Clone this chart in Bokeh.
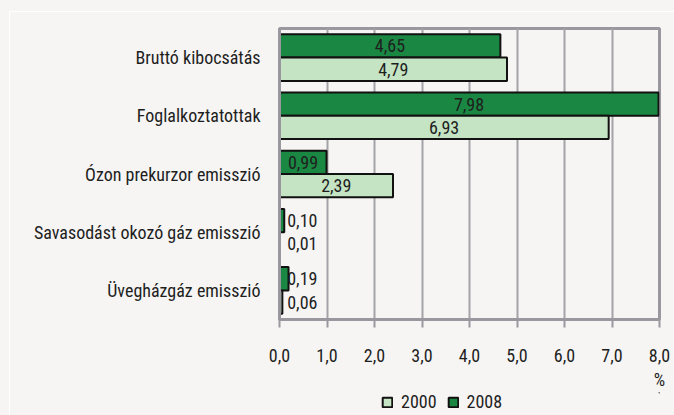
from bokeh.plotting import figure
from bokeh.layouts import column
from bokeh.models import FactorRange, Range1d, ColumnDataSource, Legend, LegendItem, FixedTicker
from bokeh.transform import dodge
from bokeh.core.properties import value
from bokeh.embed import file_html
from bokeh.resources import INLINE

categories = ["Bruttó kibocsátás", "Foglalkoztatottak", "Ózon prekurzor emisszió",
              "Savasodást okozó gáz emisszió", "Üvegházgáz emisszió"]
values_2000 = [4.79, 6.93, 2.39, 0.01, 0.06]
values_2008 = [4.65, 7.98, 0.99, 0.10, 0.19]
series_names = ["2000", "2008"]
x_ticks = [0, 1, 2, 3, 4, 5, 6, 7, 8]
x_tick_labels = ["0,0", "1,0", "2,0", "3,0", "4,0", "5,0", "6,0", "7,0", "8,0"]
unit_label = "%"

BG = "#f6f5f3"
GRID = "#a3a3a8"
FRAME = "#98989e"
C2000 = "#c5e4c4"
C2008 = "#1a8742"
TXT = "#1e1e1e"
FONT = "'Liberation Sans Narrow', 'Arial Narrow', 'Roboto Condensed', sans-serif"
FS = "18px"

def fmt(v):
    return f"{v:.2f}".replace(".", ",")

src = ColumnDataSource(dict(
    cat=categories,
    v2000=values_2000,
    v2008=values_2008,
    l2000=[fmt(v) for v in values_2000],
    l2008=[fmt(v) for v in values_2008],
    x2000=[max(v / 2, 0.48) for v in values_2000],
    x2008=[max(v / 2, 0.48) for v in values_2008],
))

BORDER_L, BORDER_R = 269, 15

p = figure(width=664, height=380, y_range=FactorRange(factors=categories[::-1]),
           x_range=Range1d(0, 8), output_backend="svg", toolbar_location=None,
           min_border_left=BORDER_L, min_border_top=16, min_border_right=BORDER_R,
           min_border_bottom=60)
p.background_fill_color = BG
p.border_fill_color = BG
p.outline_line_color = FRAME
p.outline_line_width = 3

BAR_STYLE = dict(height=0.4, line_color="#111111", line_width=2)
r08 = p.hbar(y=dodge("cat", 0.2, range=p.y_range), right="v2008", left=0,
             source=src, fill_color=C2008, **BAR_STYLE)
r00 = p.hbar(y=dodge("cat", -0.2, range=p.y_range), right="v2000", left=0,
             source=src, fill_color=C2000, **BAR_STYLE)

for xf, lf, off in (("x2008", "l2008", 0.2), ("x2000", "l2000", -0.2)):
    p.text(x=xf, y=dodge("cat", off, range=p.y_range), text=lf, source=src,
           text_align="center", text_baseline="middle", text_color=TXT,
           text_font=value(FONT), text_font_size=FS)

p.ygrid.grid_line_color = None
p.xgrid.grid_line_color = GRID
p.xgrid.grid_line_width = 2
p.xgrid.ticker = FixedTicker(ticks=x_ticks)

xa = p.xaxis[0]
xa.ticker = FixedTicker(ticks=x_ticks)
xa.major_label_overrides = {t: l for t, l in zip(x_ticks, x_tick_labels)}
xa.axis_line_color = FRAME
xa.axis_line_width = 3
xa.major_tick_line_color = FRAME
xa.major_tick_line_width = 2
xa.major_tick_in = 0
xa.major_tick_out = 8
xa.minor_tick_line_color = None
xa.major_label_standoff = 21
xa.major_label_text_font = FONT
xa.major_label_text_font_size = FS
xa.major_label_text_color = TXT
xa.axis_label = unit_label
xa.axis_label_standoff = 4
xa.axis_label_text_font = FONT
xa.axis_label_text_font_size = FS
xa.axis_label_text_font_style = "normal"
xa.axis_label_text_color = TXT
xa.axis_label_align = "end"
xa.axis_label_text_align = "right"

ya = p.yaxis[0]
ya.axis_line_color = FRAME
ya.axis_line_width = 3
ya.major_tick_line_color = None
ya.minor_tick_line_color = None
ya.major_label_standoff = 13
ya.major_label_text_font = FONT
ya.major_label_text_font_size = FS
ya.major_label_text_color = TXT

# legend strip: its own small figure (annotations in the main figure are clipped to the frame)
lg = figure(width=664, height=23, x_axis_type=None, y_axis_type=None,
            x_range=Range1d(0, 1), y_range=Range1d(0, 1),
            output_backend="svg", toolbar_location=None,
            min_border_left=BORDER_L, min_border_right=BORDER_R,
            min_border_top=0, min_border_bottom=0)
lg.background_fill_color = BG
lg.border_fill_color = BG
lg.outline_line_color = None
lg.grid.grid_line_color = None
# keys: one off-range mark each, only so that the legend has a glyph to show
k00 = lg.hbar(y=[5], right=[6], left=5, fill_color=C2000, **BAR_STYLE)
k08 = lg.hbar(y=[5], right=[6], left=5, fill_color=C2008, **BAR_STYLE)
legend = Legend(items=[LegendItem(label=series_names[0], renderers=[k00]),
                       LegendItem(label=series_names[1], renderers=[k08])],
                location=(102, 3), orientation="horizontal",
                glyph_width=12, glyph_height=12, label_height=12, label_standoff=8,
                spacing=10, padding=0, margin=0,
                background_fill_alpha=0, border_line_color=None,
                label_text_font=FONT, label_text_font_size=FS, label_text_color=TXT)
lg.add_layout(legend, "center")

layout = column(p, lg, spacing=0)
html = file_html(layout, INLINE)
html = html.replace("</head>",
    "<style>html{background:%s;} body{margin:11px 0 0 9px;padding:0;"
    "border-top:1px solid #ffffff;border-left:1px solid #ffffff;}</style></head>" % BG, 1)
open("out.html", "w").write(html)
